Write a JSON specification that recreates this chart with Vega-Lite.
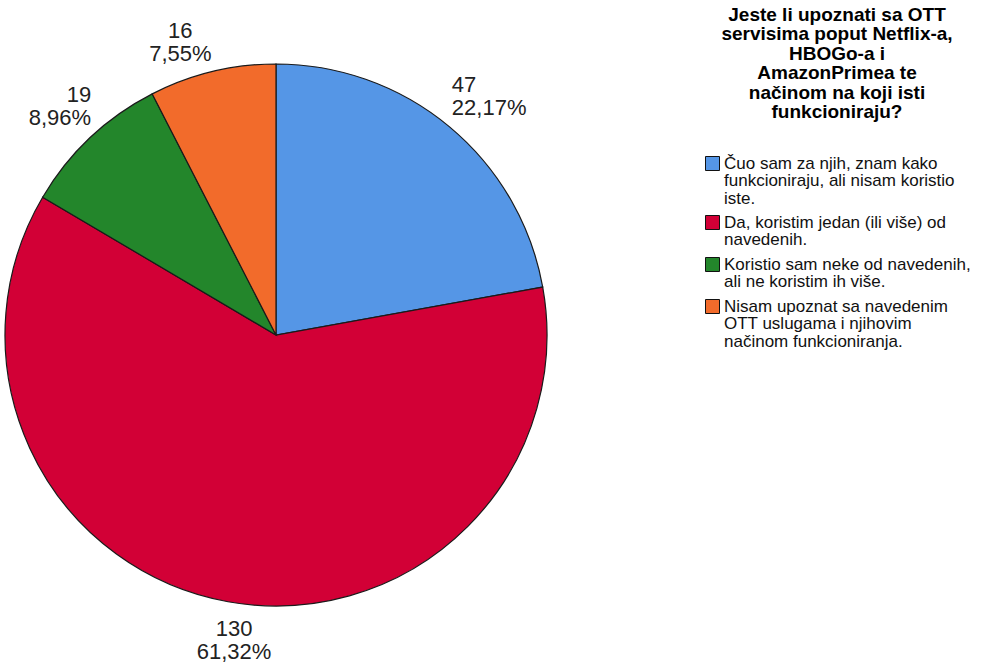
{
  "$schema": "https://vega.github.io/schema/vega-lite/v6.json",
  "width": 552,
  "height": 670,
  "padding": 0,
  "background": "white",
  "config": {
    "view": {"stroke": null},
    "font": "Liberation Sans",
    "style": {"guide-label": {"lineHeight": 17.7}}
  },
  "data": {
    "values": [
      {"category": "Čuo sam za njih, znam kako funkcioniraju, ali nisam koristio iste.", "count": 47, "rank": 1, "label": "47\n22,17%"},
      {"category": "Da, koristim jedan (ili više) od navedenih.", "count": 130, "rank": 2, "label": "130\n61,32%"},
      {"category": "Koristio sam neke od navedenih, ali ne koristim ih više.", "count": 19, "rank": 3, "label": "19\n8,96%"},
      {"category": "Nisam upoznat sa navedenim OTT uslugama i njihovim načinom funkcioniranja.", "count": 16, "rank": 4, "label": "16\n7,55%"}
    ]
  },
  "encoding": {
    "theta": {"field": "count", "type": "quantitative", "stack": true},
    "order": {"field": "rank", "type": "quantitative"}
  },
  "layer": [
    {
      "mark": {"type": "arc", "outerRadius": 271, "stroke": "#1a1a1a", "strokeWidth": 1.2},
      "encoding": {
        "color": {
          "field": "category",
          "type": "nominal",
          "sort": {"field": "rank"},
          "scale": {
            "domain": [
              "Čuo sam za njih, znam kako funkcioniraju, ali nisam koristio iste.",
              "Da, koristim jedan (ili više) od navedenih.",
              "Koristio sam neke od navedenih, ali ne koristim ih više.",
              "Nisam upoznat sa navedenim OTT uslugama i njihovim načinom funkcioniranja."
            ],
            "range": ["#5596E6", "#D20036", "#23862B", "#F26B2B"]
          },
          "legend": {
            "orient": "none",
            "legendX": 704,
            "legendY": 6,
            "title": ["Jeste li upoznati sa OTT", "servisima poput Netflix-a,", "HBOGo-a i", "AmazonPrimea te", "načinom na koji isti", "funkcioniraju?"],
            "titleFont": "Liberation Sans",
            "titleFontSize": 19,
            "titleFontWeight": "bold",
            "titleLineHeight": 19.4,
            "titleColor": "#000000",
            "titleAlign": "center",
            "titleAnchor": "middle",
            "titlePadding": 33,
            "titleLimit": 400,
            "labelFont": "Liberation Sans",
            "labelFontSize": 17,
            "labelColor": "#111111",
            "labelLimit": 400,
            "labelOffset": 3,
            "rowPadding": 6,
            "symbolType": "square",
            "symbolSize": 196,
            "symbolStrokeColor": "#111111",
            "symbolStrokeWidth": 1,
            "symbolOpacity": 1,
            "labelExpr": "indexof(datum.label, 'Čuo') == 0 ? ['Čuo sam za njih, znam kako', 'funkcioniraju, ali nisam koristio', 'iste.'] : indexof(datum.label, 'Da,') == 0 ? ['Da, koristim jedan (ili više) od', 'navedenih.'] : indexof(datum.label, 'Koristio') == 0 ? ['Koristio sam neke od navedenih,', 'ali ne koristim ih više.'] : ['Nisam upoznat sa navedenim', 'OTT uslugama i njihovim', 'načinom funkcioniranja.']"
          }
        }
      }
    },
    {
      "mark": {"type": "text", "radius": 271, "align": "left", "baseline": "middle", "dx": 2, "dy": -42, "fontSize": 22, "lineHeight": 23, "lineBreak": "\n", "color": "#222222"},
      "encoding": {
        "detail": {"field": "category", "type": "nominal"},
        "text": {"condition": {"test": "datum.rank == 1", "field": "label"}, "value": ""}
      }
    },
    {
      "mark": {"type": "text", "radius": 271, "align": "center", "baseline": "middle", "dx": 6, "dy": 27, "fontSize": 22, "lineHeight": 23, "lineBreak": "\n", "color": "#222222"},
      "encoding": {
        "detail": {"field": "category", "type": "nominal"},
        "text": {"condition": {"test": "datum.rank == 2", "field": "label"}, "value": ""}
      }
    },
    {
      "mark": {"type": "text", "radius": 271, "align": "right", "baseline": "middle", "dx": 1, "dy": -43, "fontSize": 22, "lineHeight": 23, "lineBreak": "\n", "color": "#222222"},
      "encoding": {
        "detail": {"field": "category", "type": "nominal"},
        "text": {"condition": {"test": "datum.rank == 3", "field": "label"}, "value": ""}
      }
    },
    {
      "mark": {"type": "text", "radius": 271, "align": "center", "baseline": "middle", "dx": -32, "dy": -41, "fontSize": 22, "lineHeight": 23, "lineBreak": "\n", "color": "#222222"},
      "encoding": {
        "detail": {"field": "category", "type": "nominal"},
        "text": {"condition": {"test": "datum.rank == 4", "field": "label"}, "value": ""}
      }
    }
  ]
}
